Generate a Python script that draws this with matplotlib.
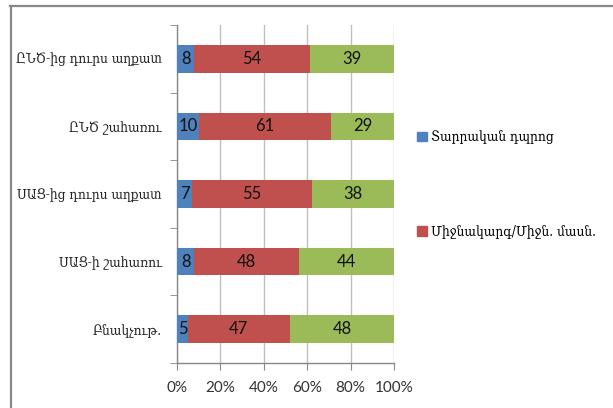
import matplotlib
matplotlib.use("Agg")
import matplotlib.pyplot as plt
from matplotlib.lines import Line2D
import numpy as np

# Survey groups (top to bottom) and the share of each education level
categories = ["ԸՆԾ-ից դուրս աղքատ", "ԸՆԾ շահառու", "ՍԱՑ-ից դուրս աղքատ", "ՍԱՑ-ի շահառու", "Բնակչութ."]
primary = [8, 10, 7, 8, 5]
secondary = [54, 61, 55, 48, 47]
higher = [39, 29, 38, 44, 48]
series_names = ["Տարրական դպրոց", "Միջնակարգ/Միջն. մասն.", "Բարձրագույն"]
colors = ["#4F81BD", "#C0504D", "#9BBB59"]
xticks = [0, 20, 40, 60, 80, 100]

ARM_FONT = ["DejaVu Serif", "DejaVu Sans"]
NUM_FONT = ["Lato", "DejaVu Sans"]

fig = plt.figure(figsize=(6.13, 4.08), dpi=100)
ax = fig.add_axes([177 / 613, 1 - 363 / 408, 217 / 613, 338 / 408])

data = np.array([primary, secondary, higher], dtype=float)
totals = data.sum(axis=0)
shares = data / totals * 100
y = np.arange(len(categories))

left = np.zeros(len(categories))
for vals, pct, col in zip(data, shares, colors):
    ax.barh(y, pct, left=left, height=0.41, color=col, zorder=3)
    for yi, v, l, w in zip(y, vals, left, pct):
        ax.text(l + w / 2, yi, f"{int(v)}", ha="center", va="center",
                fontsize=12, family=NUM_FONT, color="#111111", zorder=4)
    left += pct

ax.set_xlim(0, 100)
ax.set_ylim(len(categories) - 0.5, -0.5)
ax.set_xticks(xticks)
ax.set_xticklabels([f"{t}%" for t in xticks], family=NUM_FONT, fontsize=11, color="#333333")
ax.set_yticks(y)
ax.set_yticklabels(categories, family=ARM_FONT, fontstretch="condensed", fontsize=9.8, color="#222222")
ax.set_yticks(np.arange(-0.5, len(categories), 1), minor=True)
ax.tick_params(axis="y", which="major", length=0, pad=11)
ax.tick_params(axis="y", which="minor", length=5, color="#888888")
ax.tick_params(axis="x", length=5, color="#888888", pad=8)

for s in ["top", "right"]:
    ax.spines[s].set_visible(False)
for s in ["left", "bottom"]:
    ax.spines[s].set_color("#888888")
    ax.spines[s].set_linewidth(1)
ax.xaxis.grid(True, color="#BFBFBF", linewidth=1, zorder=0)
ax.set_axisbelow(True)

# Legend: first two series entries
handles = [plt.Rectangle((0, 0), 1, 1, color=c) for c in colors[:2]]
fig.legend(handles, series_names[:2], loc="upper left",
           bbox_to_anchor=(405 / 613, 1 - 118 / 408), frameon=False,
           prop={"family": ARM_FONT, "stretch": "condensed", "size": 9.8},
           handlelength=0.7, handleheight=0.7, handletextpad=0.3,
           labelspacing=5.9)

# Outer frame of the chart area
fig.add_artist(Line2D([10 / 613, 1], [1 - 5.5 / 408, 1 - 5.5 / 408],
                      transform=fig.transFigure, color="#888888", linewidth=1.6))
fig.add_artist(Line2D([10.5 / 613, 10.5 / 613], [0, 1 - 5.5 / 408],
                      transform=fig.transFigure, color="#888888", linewidth=1.6))

fig.savefig("out.png", dpi=100)
